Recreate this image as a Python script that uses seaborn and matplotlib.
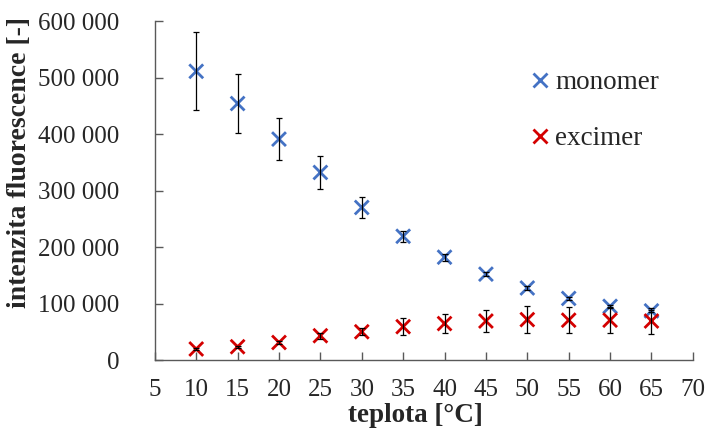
"""
Fluorescence intensity of monomer and excimer versus temperature.
"""

import matplotlib
matplotlib.use('Agg')
import matplotlib.pyplot as plt
import matplotlib.ticker as mticker
import seaborn as sns
import pandas as pd

teplota = [10, 15, 20, 25, 30, 35, 40, 45, 50, 55, 60, 65]
monomer = [511000, 454000, 391000, 332000, 270000, 219000, 182000, 152000, 127500, 109000, 95000, 87000]
monomer_err = [69000, 53000, 37000, 29000, 18000, 10000, 6000, 3000, 3000, 2000, 2000, 2000]
excimer = [19500, 23500, 31000, 43000, 50000, 59000, 64500, 69000, 71500, 70500, 70500, 69000]
excimer_err = [2000, 2000, 2500, 5000, 6000, 15000, 17500, 20000, 24000, 23500, 22000, 23000]

df = pd.DataFrame({
    'teplota': teplota * 2,
    'intenzita': monomer + excimer,
    'err': monomer_err + excimer_err,
    'serie': ['monomer'] * len(teplota) + ['excimer'] * len(teplota),
})

sns.set_style('white')
plt.rcParams['font.family'] = ['Liberation Serif', 'DejaVu Serif']
# seaborn's white style hides the ticks; the original has short inward ticks
plt.rcParams['xtick.bottom'] = True
plt.rcParams['ytick.left'] = True
plt.rcParams['xtick.direction'] = 'in'
plt.rcParams['ytick.direction'] = 'in'

fig = plt.figure(figsize=(7.07, 4.34), dpi=100)
ax = fig.add_axes([0.219, 0.1705, 0.761, 0.781])

palette = {'monomer': '#4472C4', 'excimer': '#D40000'}
sns.scatterplot(data=df, x='teplota', y='intenzita', hue='serie', palette=palette,
                marker='x', s=100, linewidth=2, ax=ax, zorder=2)

# error bars on top of the markers, as in the original
for name, grp in df.groupby('serie'):
    ax.errorbar(grp['teplota'], grp['intenzita'], yerr=grp['err'], fmt='none',
                ecolor='black', elinewidth=0.9, capsize=2.5, capthick=0.9, zorder=3)

ax.set_xlim(5, 70)
ax.set_ylim(0, 600000)
ax.xaxis.set_major_locator(mticker.MultipleLocator(5))
ax.yaxis.set_major_locator(mticker.MultipleLocator(100000))
ax.yaxis.set_major_formatter(mticker.FuncFormatter(lambda v, p: f'{int(v):,}'.replace(',', ' ')))

ax.tick_params(axis='both', direction='in', length=6, width=1, color='#595959',
               labelsize=18, bottom=True, left=True)
ax.tick_params(axis='x', pad=14)
ax.tick_params(axis='y', pad=25.5)
for side in ['top', 'right']:
    ax.spines[side].set_visible(False)
for side in ['left', 'bottom']:
    ax.spines[side].set_color('#595959')
    ax.spines[side].set_linewidth(1)

ax.set_xlabel('teplota [°C]', fontsize=19.5, fontweight='bold')
ax.set_ylabel('intenzita fluorescence [-]', fontsize=20, fontweight='bold')
ax.xaxis.set_label_coords(0.484, -0.127)
ax.yaxis.set_label_coords(-0.229, 0.583)

handles, labels = ax.get_legend_handles_labels()
order = [labels.index('monomer'), labels.index('excimer')]
ax.legend([handles[i] for i in order], [labels[i] for i in order], frameon=False,
          fontsize=19.5, labelspacing=1.15, handletextpad=0.05, handlelength=1.0,
          borderpad=0, borderaxespad=0, loc='upper left',
          bbox_to_anchor=(0.745, 0.838), bbox_transform=fig.transFigure)

plt.savefig('out.png', dpi=100)
